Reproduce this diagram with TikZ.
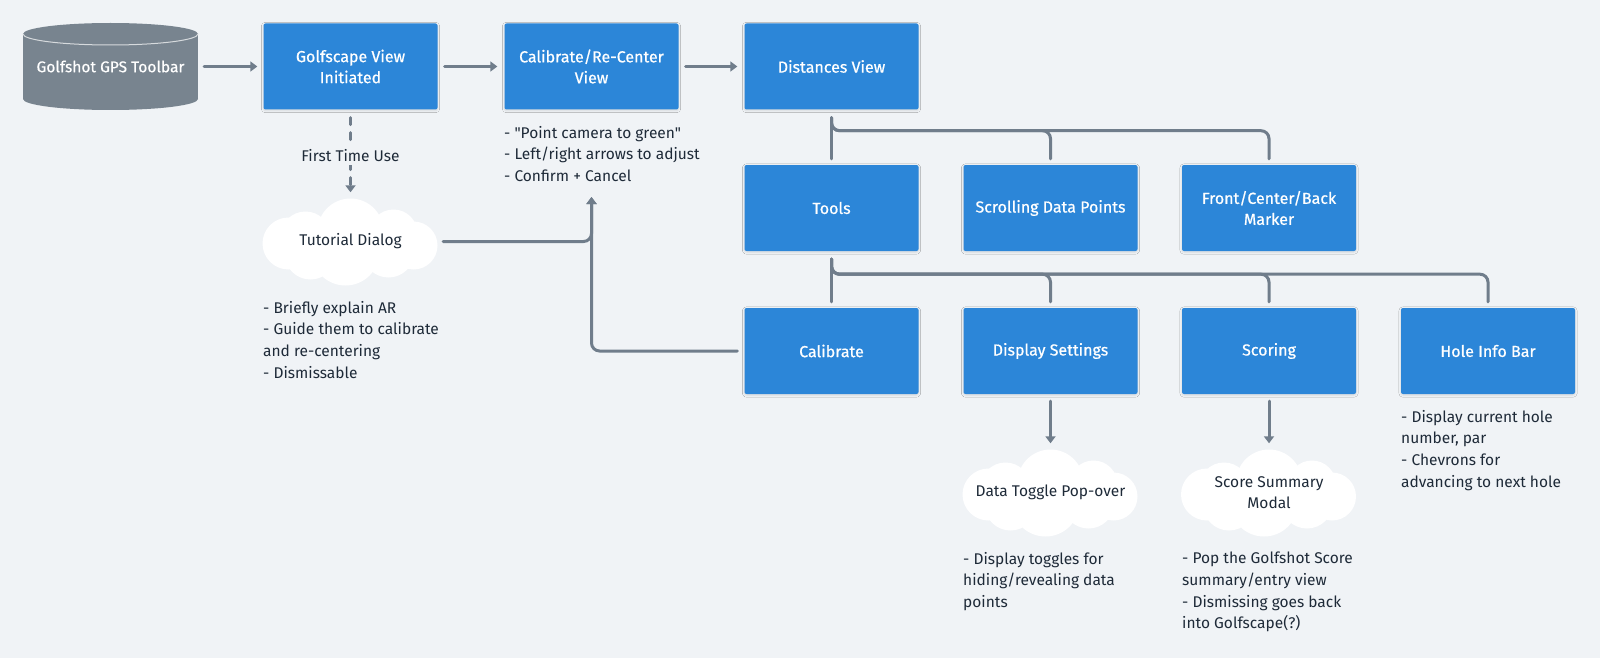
\documentclass[tikz,border=0pt]{standalone}
\usepackage{fontspec}
\setmainfont{Fira Sans}
\newfontfamily\boxfont{Fira Sans}[FakeBold=0.6]
\usetikzlibrary{arrows.meta,shadows.blur}
\definecolor{bg}{HTML}{F0F3F6}
\definecolor{boxblue}{HTML}{2C86D8}
\definecolor{linegray}{HTML}{707D8B}
\definecolor{cylgray}{HTML}{78848F}
\definecolor{notetext}{HTML}{1E2A38}
\tikzset{
  box/.style={rectangle,fill=boxblue,text=white,minimum width=174,minimum height=86,
    rounded corners=2pt,align=center,inner sep=2pt,
    font=\boxfont\fontsize{16}{21}\selectfont,
    blur shadow={shadow xshift=0pt,shadow yshift=-1pt,shadow opacity=12,shadow blur steps=4}},
  puffnode/.style={rectangle,minimum width=175,minimum height=88,inner sep=0pt,align=center,
    text=notetext,font=\fontsize{15.5}{21.5}\selectfont},
  puff/.pic={
    \fill[white] (0,0) ellipse[x radius=60,y radius=28];
    \fill[white] (0,-10) circle[radius=33];
    \fill[white] (-45,-5) circle[radius=25];
    \fill[white] (-62,2) circle[radius=26];
    \fill[white] (43,-8) circle[radius=24];
    \fill[white] (63,4) circle[radius=24];
    \fill[white] (-5,10) circle[radius=34];
    \fill[white] (-40,12) circle[radius=26];
    \fill[white] (38,10) circle[radius=26];
  },
  note/.style={anchor=north west,align=left,inner sep=0pt,text=notetext,
    font=\fontsize{15.5}{21.7}\selectfont},
  conn/.style={draw=linegray,line width=3pt,line cap=round},
}
\begin{document}
\begin{tikzpicture}[x=1pt,y=-1pt,>={Triangle[width=10pt,length=7pt]}]
  \useasboundingbox[fill=bg] (0,0) rectangle (1600,658);
  % toolbar cylinder
  \fill[cylgray] (23,34) rectangle (198,99);
  \fill[cylgray] (110.5,34) ellipse [x radius=87.5, y radius=11];
  \fill[cylgray] (110.5,99) ellipse [x radius=87.5, y radius=11];
  \draw[white!70!cylgray,line width=1pt] (23,34) arc[start angle=180,end angle=0,x radius=87.5,y radius=11];
  \node[text=white,font=\boxfont\fontsize{15.5}{21}\selectfont,minimum width=175,minimum height=87] (toolbar) at (110.5,66.5) {\raisebox{-9pt}{Golfshot GPS Toolbar}};
  % top row
  \node[box] (golf) at (350.5,66.5) {Golfscape View\\Initiated};
  \node[box] (calib) at (591.5,66.5) {Calibrate/Re-Center\\View};
  \node[box] (dist) at (831.5,66.5) {Distances View};
  % second row
  \node[box] (tools) at (831.5,208) {Tools};
  \node[box] (scroll) at (1050.5,208) {Scrolling Data Points};
  \node[box] (marker) at (1269,208) {Front/Center/Back\\Marker};
  % third row
  \node[box] (cal) at (831.5,351) {Calibrate};
  \node[box] (disp) at (1050.5,351) {Display Settings};
  \node[box] (score) at (1269,351) {Scoring};
  \node[box] (hole) at (1488,351) {Hole Info Bar};
  % clouds
  \pic at (350.5,241.5) {puff};
  \node[puffnode] (tut) at (350.5,241.5) {Tutorial Dialog};
  \pic at (1050.5,492.5) {puff};
  \node[puffnode] (toggle) at (1050.5,492.5) {Data Toggle Pop-over};
  \pic at (1269,492.5) {puff};
  \node[puffnode] (summ) at (1269,492.5) {Score Summary\\Modal};
  % notes
  \node[note] (calibnote) at (504,126) {- \textquotedbl Point camera to green\textquotedbl\\- Left/right arrows to adjust\\- Confirm + Cancel};
  \node[note] (tutnote) at (263,301) {- Briefly explain AR\\- Guide them to calibrate\\and re-centering\\- Dismissable};
  \node[note] (holenote) at (1401,410) {- Display current hole\\number, par\\- Chevrons for\\advancing to next hole};
  \node[note] (togglenote) at (963,552) {- Display toggles for\\hiding/revealing data\\points};
  \node[note] (summnote) at (1182,552) {- Pop the Golfshot Score\\summary/entry view\\- Dismissing goes back\\into Golfscape(?)};
  % main flow
  \draw[conn,->,shorten <=6pt,shorten >=6pt] (toolbar) -- (golf);
  \draw[conn,->,shorten <=7pt,shorten >=7pt] (golf) -- (calib);
  \draw[conn,->,shorten <=7pt,shorten >=7pt] (calib) -- (dist);
  \draw[conn,->,dash pattern=on 7pt off 8pt,shorten <=8pt,shorten >=5pt] (golf.south) --
    node[pos=0.52,fill=bg,text=notetext,font=\fontsize{15.5}{21}\selectfont,inner xsep=2pt,inner ysep=4pt] (firstuse) {First Time Use} (tut.north);
  % back to calibrate view
  \coordinate (recal) at (591.5,197);
  \draw[conn,->,rounded corners=8pt] ([xshift=5pt]tut.east) -| (recal);
  \draw[conn,->,rounded corners=8pt] ([xshift=-7pt]cal.west) -| (recal);
  % branches from distances view
  \coordinate (bus1) at ([yshift=-21pt]dist.south);
  \draw[conn] ([yshift=-8pt]dist.south) -- ([yshift=6pt]tools.north);
  \draw[conn,rounded corners=8pt] ([yshift=-8pt]dist.south) |- (bus1 -| scroll.north) -- ([yshift=6pt]scroll.north);
  \draw[conn,rounded corners=8pt] ([yshift=-8pt]dist.south) |- (bus1 -| marker.north) -- ([yshift=6pt]marker.north);
  % branches from tools
  \coordinate (bus2) at ([yshift=-23pt]tools.south);
  \draw[conn] ([yshift=-8pt]tools.south) -- ([yshift=6pt]cal.north);
  \draw[conn,rounded corners=8pt] ([yshift=-8pt]tools.south) |- (bus2 -| disp.north) -- ([yshift=6pt]disp.north);
  \draw[conn,rounded corners=8pt] ([yshift=-8pt]tools.south) |- (bus2 -| score.north) -- ([yshift=6pt]score.north);
  \draw[conn,rounded corners=8pt] ([yshift=-8pt]tools.south) |- (bus2 -| hole.north) -- ([yshift=6pt]hole.north);
  % pop-overs
  \draw[conn,->,shorten <=7pt,shorten >=5pt] (disp.south) -- (toggle.north);
  \draw[conn,->,shorten <=7pt,shorten >=5pt] (score.south) -- (summ.north);
\end{tikzpicture}
\end{document}
